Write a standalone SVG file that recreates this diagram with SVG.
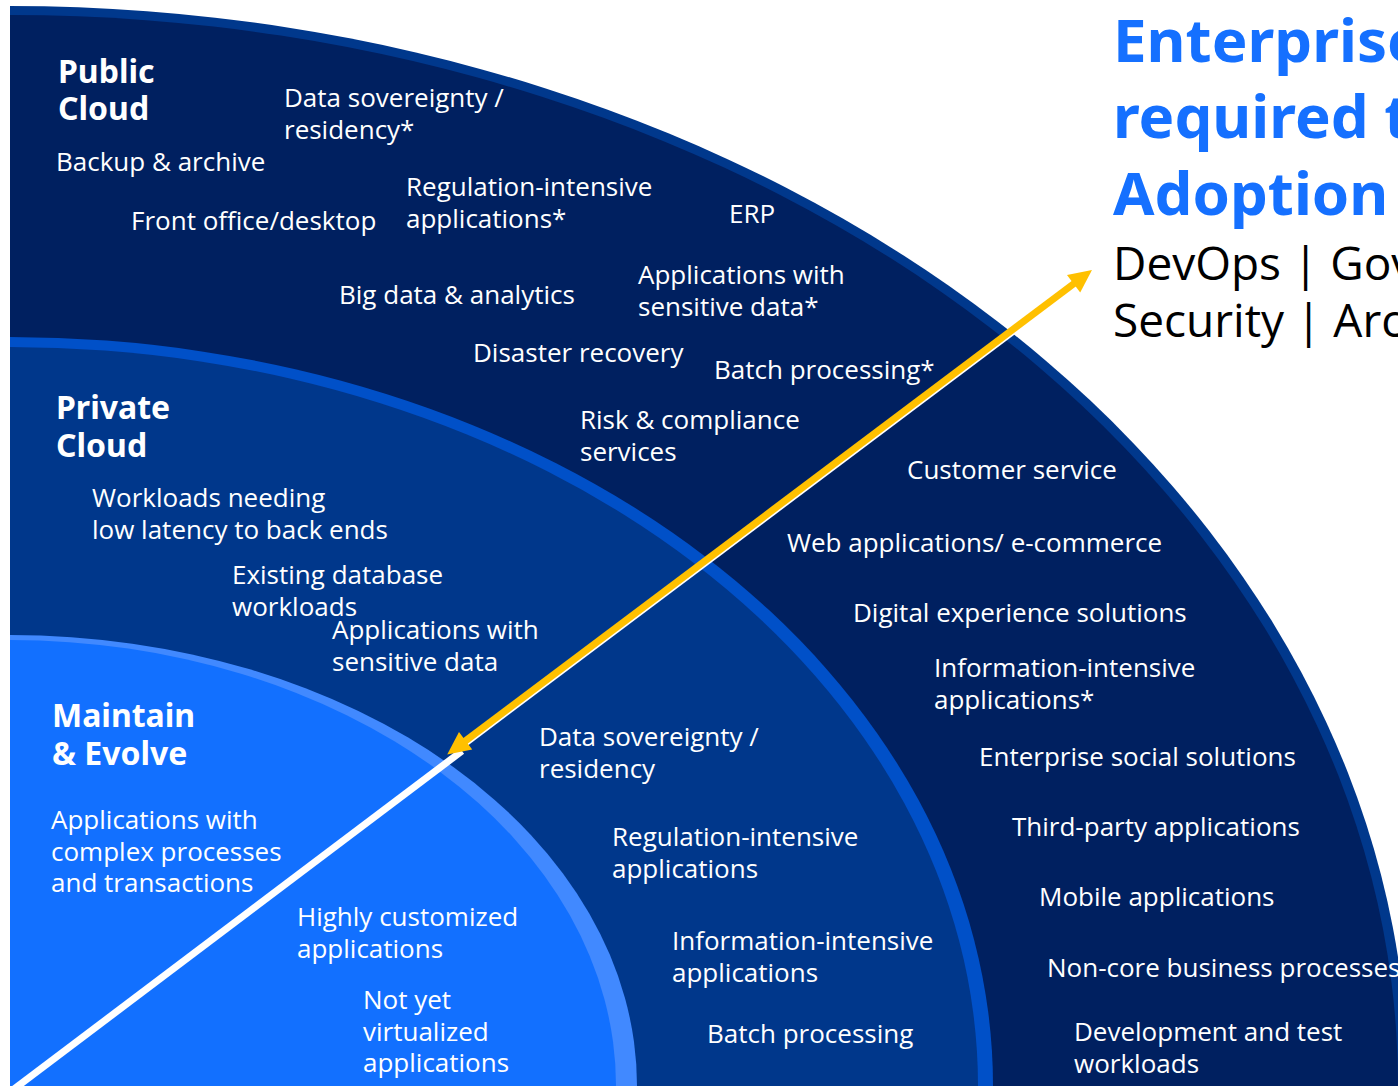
<svg xmlns="http://www.w3.org/2000/svg" width="1398" height="1086" viewBox="0 0 1398 1086">
<defs>
<clipPath id="slide"><rect x="10" y="0" width="1388" height="1086"/></clipPath>
<marker id="ah" markerUnits="userSpaceOnUse" markerWidth="24" markerHeight="22" refX="1" refY="11" orient="auto-start-reverse" overflow="visible"><path d="M0,0 L23,11 L0,22 Z" fill="#ffc000"/></marker>
</defs>
<style>
.t{font-family:"Open Sans","Noto Sans",sans-serif;font-size:26px;fill:#ffffff}
.h{font-family:"Noto Sans","Open Sans",sans-serif;font-size:32px;font-weight:700;fill:#ffffff}
.ti{font-family:"Noto Sans","Open Sans",sans-serif;font-size:60px;font-weight:700;fill:#1570ff}
.sub{font-family:"Open Sans","Noto Sans",sans-serif;font-size:46px;fill:#000000}
</style>
<rect x="0" y="0" width="1398" height="1086" fill="#ffffff"/>
<g clip-path="url(#slide)">
  <g id="public-cloud-shape">
    <ellipse cx="10" cy="1086" rx="1398" ry="1080" fill="#00388c"/>
    <ellipse cx="10" cy="1086" rx="1388" ry="1071" fill="#002060"/>
  </g>
  <g id="private-cloud-shape">
    <ellipse cx="10" cy="1086" rx="983" ry="749" fill="#0050c8"/>
    <ellipse cx="10" cy="1086" rx="968" ry="739" fill="#00378b"/>
  </g>
  <g id="maintain-shape">
    <ellipse cx="10" cy="1086" rx="627" ry="451" fill="#4189ff"/>
    <ellipse cx="10" cy="1086" rx="606" ry="446" fill="#1270ff"/>
  </g>
</g>
<g id="public-cloud">
  <text class="h" x="58" y="83"><tspan x="58">Public</tspan><tspan x="58" dy="37">Cloud</tspan></text>
  <text class="t" x="284" y="107"><tspan x="284">Data sovereignty /</tspan><tspan x="284" dy="31.5">residency*</tspan></text>
  <text class="t" x="56" y="171">Backup &amp; archive</text>
  <text class="t" x="131" y="230">Front office/desktop</text>
  <text class="t" x="406" y="196"><tspan x="406">Regulation-intensive</tspan><tspan x="406" dy="31.5">applications*</tspan></text>
  <text class="t" x="729" y="223">ERP</text>
  <text class="t" x="339" y="304">Big data &amp; analytics</text>
  <text class="t" x="638" y="284"><tspan x="638">Applications with</tspan><tspan x="638" dy="31.5">sensitive data*</tspan></text>
  <text class="t" x="473" y="362">Disaster recovery</text>
  <text class="t" x="714" y="379">Batch processing*</text>
  <text class="t" x="580" y="429"><tspan x="580">Risk &amp; compliance</tspan><tspan x="580" dy="31.5">services</tspan></text>
  <text class="t" x="907" y="479">Customer service</text>
  <text class="t" x="787" y="552">Web applications/ e-commerce</text>
  <text class="t" x="853" y="622">Digital experience solutions</text>
  <text class="t" x="934" y="677"><tspan x="934">Information-intensive</tspan><tspan x="934" dy="31.5">applications*</tspan></text>
  <text class="t" x="979" y="766">Enterprise social solutions</text>
  <text class="t" x="1012" y="836">Third-party applications</text>
  <text class="t" x="1039" y="906">Mobile applications</text>
  <text class="t" x="1047" y="977">Non-core business processes</text>
  <text class="t" x="1074" y="1041"><tspan x="1074">Development and test</tspan><tspan x="1074" dy="31.5">workloads</tspan></text>
</g>
<g id="private-cloud">
  <text class="h" x="56" y="419"><tspan x="56">Private</tspan><tspan x="56" dy="38">Cloud</tspan></text>
  <text class="t" x="92" y="507"><tspan x="92">Workloads needing</tspan><tspan x="92" dy="31.5">low latency to back ends</tspan></text>
  <text class="t" x="232" y="584"><tspan x="232">Existing database</tspan><tspan x="232" dy="31.5">workloads</tspan></text>
  <text class="t" x="332" y="639"><tspan x="332">Applications with</tspan><tspan x="332" dy="31.5">sensitive data</tspan></text>
  <text class="t" x="539" y="746"><tspan x="539">Data sovereignty /</tspan><tspan x="539" dy="31.5">residency</tspan></text>
  <text class="t" x="612" y="846"><tspan x="612">Regulation-intensive</tspan><tspan x="612" dy="31.5">applications</tspan></text>
  <text class="t" x="672" y="950"><tspan x="672">Information-intensive</tspan><tspan x="672" dy="31.5">applications</tspan></text>
  <text class="t" x="707" y="1043">Batch processing</text>
</g>
<g id="maintain-evolve">
  <text class="h" x="52" y="727"><tspan x="52">Maintain</tspan><tspan x="52" dy="38">&amp; Evolve</tspan></text>
  <text class="t" x="51" y="829"><tspan x="51">Applications with</tspan><tspan x="51" dy="31.5">complex processes</tspan><tspan x="51" dy="31.5">and transactions</tspan></text>
  <text class="t" x="297" y="926"><tspan x="297">Highly customized</tspan><tspan x="297" dy="31.5">applications</tspan></text>
  <text class="t" x="363" y="1009"><tspan x="363">Not yet</tspan><tspan x="363" dy="31.5">virtualized</tspan><tspan x="363" dy="31.5">applications</tspan></text>
</g>
<g id="connectors">
  <g clip-path="url(#slide)">
    <line x1="14" y1="1089" x2="462" y2="751" stroke="#ffffff" stroke-width="7"/>
  </g>
  <line x1="465.8" y1="742.7" x2="1075.4" y2="284.5" stroke="#ffffff" stroke-width="7"/>
  <line x1="464.8" y1="741.4" x2="1074.4" y2="283.2" stroke="#ffc000" stroke-width="7" marker-start="url(#ah)" marker-end="url(#ah)"/>
</g>
<g id="title">
  <text class="ti" x="1113" y="62">Enterprise</text>
  <text class="ti" x="1113" y="138">required t</text>
  <text class="ti" x="1113" y="215">Adoption</text>
  <text class="sub" x="1113" y="280">DevOps | Gov</text>
  <text class="sub" x="1113" y="337">Security | Arc</text>
</g>
</svg>
